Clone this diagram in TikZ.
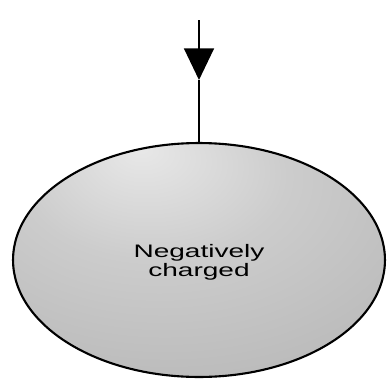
\documentclass[tikz,border=0pt]{standalone}
\usepackage{fontspec}
\setmainfont{Liberation Sans}
\usetikzlibrary{arrows.meta,shapes.geometric}

% soft grey shading of the particle, lighter near the top
\pgfdeclareradialshading{particleshade}{\pgfpoint{-8bp}{24bp}}{%
  color(0bp)=(black!9); color(18bp)=(black!20); color(42bp)=(black!28); color(72bp)=(black!42)}

\tikzset{
  particlebox/.style={ellipse, draw=black, line width=1.2pt, shading=particleshade,
    minimum width=7.44cm, minimum height=4.68cm, inner sep=0pt},
  particletext/.style={align=center, font=\fontsize{10.3}{10.8}\selectfont,
    xscale=1.55, transform shape},
  feedline/.style={line width=1.1pt}
}

\begin{document}
\begin{tikzpicture}[x=0.02cm, y=-0.02cm]
\useasboundingbox (0,0) rectangle (390,383);

% Particella
\node[particlebox] (particle) at (199,260) {};
\node[particletext] (charge) at (199,262) {Negatively\\charged};

% Freccia in ingresso
\coordinate (start) at (199,20);
\coordinate (tip) at (199,80);
\draw[feedline, -{Triangle[length=18pt, width=17pt]}] (start) -- (tip);
\draw[feedline] (tip) -- (particle.north);

\end{tikzpicture}
\end{document}
